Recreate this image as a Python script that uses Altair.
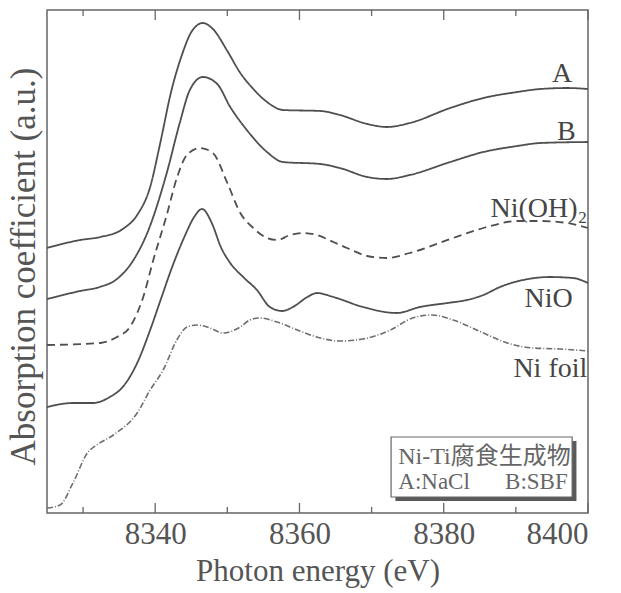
import altair as alt
import pandas as pd

# ---- data (energy in eV, absorption in arbitrary units) ----
a_e = [8325.0, 8329.6, 8332.4, 8335.5, 8337.5, 8339.3, 8340.7, 8342.2, 8343.7, 8345.1, 8346.6,
       8348.0, 8350.0, 8351.8, 8353.6, 8355.5, 8357.7, 8362.9, 8365.6, 8369.4, 8372.1, 8375.3,
       8380.9, 8385.5, 8390.2, 8393.4, 8397.1, 8400.0]
a_v = [265, 273, 276, 284, 298, 326, 370, 421, 458, 482, 490,
       484, 462, 440, 424, 411, 403, 402, 398, 389, 386, 390,
       405, 415, 421, 424, 425, 424]

b_e = [8325.0, 8329.6, 8332.3, 8334.7, 8336.9, 8338.9, 8341.6, 8343.4, 8344.8, 8346.6, 8348.6,
       8350.4, 8352.7, 8355.5, 8357.7, 8362.9, 8365.6, 8369.4, 8372.1, 8375.3, 8380.9, 8385.5,
       8390.2, 8393.4, 8400.0]
b_v = [214, 222, 226, 234, 252, 280, 340, 390, 423, 436, 429,
       406, 383, 361, 351, 349, 345, 336, 334, 338, 351, 361,
       367, 370, 371]

oh_e = [8325.0, 8332.4, 8334.7, 8336.5, 8337.5, 8338.3, 8339.7, 8341.6, 8343.0, 8344.4, 8346.2,
        8348.0, 8350.0, 8351.8, 8353.6, 8355.5, 8356.9, 8358.7, 8360.5, 8362.4, 8364.7, 8366.6,
        8369.4, 8372.1, 8375.3, 8380.9, 8385.5, 8390.2, 8393.4, 8397.1, 8400.0]
oh_v = [168, 170, 176, 186, 200, 215, 252, 298, 335, 358, 365,
        360, 330, 300, 285, 275, 273, 278, 280, 278, 271, 265,
        257, 255, 260, 274, 285, 292, 292, 290, 285]

nio_e = [8325.0, 8328.6, 8331.4, 8333.7, 8335.5, 8337.5, 8339.3, 8340.7, 8342.3, 8344.1, 8345.4,
         8346.5, 8347.9, 8349.1, 8350.4, 8352.2, 8354.1, 8355.9, 8357.6, 8359.1, 8361.1, 8362.4,
         8364.7, 8368.8, 8373.5, 8376.7, 8380.5, 8383.2, 8385.5, 8387.8, 8391.0, 8394.7, 8397.9,
         8400.0]
nio_v = [106, 110, 110, 116, 126, 150, 183, 212, 245, 277, 296,
         304, 289, 266, 250, 236, 223, 206, 202, 206, 216, 220,
         216, 206, 200, 206, 210, 213, 218, 226, 233, 236, 235,
         230]

ni_e = [8325.0, 8326.8, 8328.6, 8330.6, 8331.9, 8334.2, 8337.5, 8339.3, 8341.1, 8343.0, 8344.4,
        8345.8, 8347.6, 8349.4, 8351.8, 8353.1, 8354.5, 8356.9, 8359.7, 8362.4, 8365.6, 8368.8,
        8372.6, 8375.7, 8378.4, 8381.3, 8385.5, 8388.8, 8392.4, 8396.1, 8400.0]
ni_v = [5, 8, 30, 60, 68, 78, 100, 123, 143, 173, 186,
        188, 185, 180, 186, 193, 195, 191, 183, 176, 172, 174,
        183, 195, 198, 193, 180, 170, 165, 164, 162]

curve_names = ["A", "B", "Ni(OH)\u2082", "NiO", "Ni foil"]
label_e = [8397.8, 8398.3, 8399.9, 8397.9, 8399.9]
label_v = [431, 373, 296, 206, 136]

major_ticks = [8340, 8360, 8380, 8400]
minor_ticks = [8330, 8350, 8370, 8390]

legend_title = "Ni-Ti腐食生成物"
legend_items = ["A:NaCl", "B:SBF"]

W, H = 541, 503
FONT = "Liberation Serif, 'Noto Sans CJK JP', serif"
LINE = "#4f4f4f"

xscale = alt.Scale(domain=[8325, 8400], nice=False, zero=False)
yscale = alt.Scale(domain=[0, 503], nice=False, zero=False)

x_axis = alt.Axis(values=major_ticks, format="d", ticks=False, domain=False, grid=False,
                  labelFont=FONT, labelFontSize=31, labelColor="#555555", labelPadding=6,
                  title="Photon energy (eV)", titleFont=FONT, titleFontSize=31,
                  titleFontWeight="normal", titleColor="#555555",
                  titleY=58, titleBaseline="middle")
y_axis = alt.Axis(labels=False, ticks=False, domain=False, grid=False,
                  title="Absorption coefficient (a.u.)", titleFont=FONT, titleFontSize=35,
                  titleFontWeight="normal", titleColor="#555555",
                  titleX=-24, titleY=256, titleAngle=270, titleBaseline="middle",
                  titleAlign="center")


def X(field):
    return alt.X(field, scale=xscale, axis=x_axis)


def Y(field):
    return alt.Y(field, scale=yscale, axis=y_axis)


def line_layer(e, v, dash, color=LINE, width=1.8):
    df = pd.DataFrame({"E": e, "V": v})
    return alt.Chart(df).mark_line(interpolate="monotone", strokeWidth=width,
                                   color=color, strokeDash=dash).encode(x=X("E:Q"), y=Y("V:Q"))


lines = [
    line_layer(a_e, a_v, [1, 0]),
    line_layer(b_e, b_v, [1, 0]),
    line_layer(oh_e, oh_v, [8, 5]),
    line_layer(nio_e, nio_v, [1, 0]),
    line_layer(ni_e, ni_v, [6, 2, 1, 2], color="#6e6e6e", width=1.6),
]

labels_df = pd.DataFrame({"E": label_e, "V": label_v, "t": curve_names})
labels = alt.Chart(labels_df).mark_text(font=FONT, fontSize=28, color="#454545",
                                        align="right", baseline="alphabetic").encode(
    x=X("E:Q"), y=Y("V:Q"), text="t:N")

# ticks (inward, top and bottom)
maj_df = pd.DataFrame({"E": major_ticks})
min_df = pd.DataFrame({"E": minor_ticks})
tick_layers = []
for df, L in [(maj_df, 10), (min_df, 6)]:
    base = alt.Chart(df).mark_rule(color="#666666", strokeWidth=1.3)
    tick_layers.append(base.encode(x=X("E:Q"), y=alt.value(H), y2=alt.value(H - L)))
    tick_layers.append(base.encode(x=X("E:Q"), y=alt.value(0), y2=alt.value(L)))

# legend box (annotation in data units)
box_df = pd.DataFrame({"x1": [8372.7], "x2": [8397.8], "y1": [16], "y2": [76]})
shadow_df = pd.DataFrame({"x1": [8373.3], "x2": [8398.4], "y1": [12], "y2": [72]})
shadow = alt.Chart(shadow_df).mark_rect(color="#5a5a5a").encode(
    x=X("x1:Q"), x2="x2:Q", y=Y("y1:Q"), y2="y2:Q")
box = alt.Chart(box_df).mark_rect(fill="white", stroke="#666666", strokeWidth=1.2).encode(
    x=X("x1:Q"), x2="x2:Q", y=Y("y1:Q"), y2="y2:Q")

leg1_df = pd.DataFrame({"E": [8373.7], "V": [49], "t": [legend_title]})
leg2_df = pd.DataFrame({"E": [8373.7, 8388.5], "V": [24, 24], "t": legend_items})
leg_text1 = alt.Chart(leg1_df).mark_text(font=FONT, fontSize=24, color="#666666",
                                         align="left", baseline="alphabetic").encode(
    x=X("E:Q"), y=Y("V:Q"), text="t:N")
leg_text2 = alt.Chart(leg2_df).mark_text(font=FONT, fontSize=23, color="#666666",
                                         align="left", baseline="alphabetic").encode(
    x=X("E:Q"), y=Y("V:Q"), text="t:N")

chart = alt.layer(*lines, labels, *tick_layers, shadow, box, leg_text1, leg_text2).properties(
    width=W, height=H,
    autosize=alt.AutoSizeParams(type="none"),
    padding={"left": 47, "top": 10, "right": 33, "bottom": 80},
    background="white",
).configure_view(stroke="#666666", strokeWidth=1.5)

chart.save("out.html", embed_options={"renderer": "svg", "actions": False})
